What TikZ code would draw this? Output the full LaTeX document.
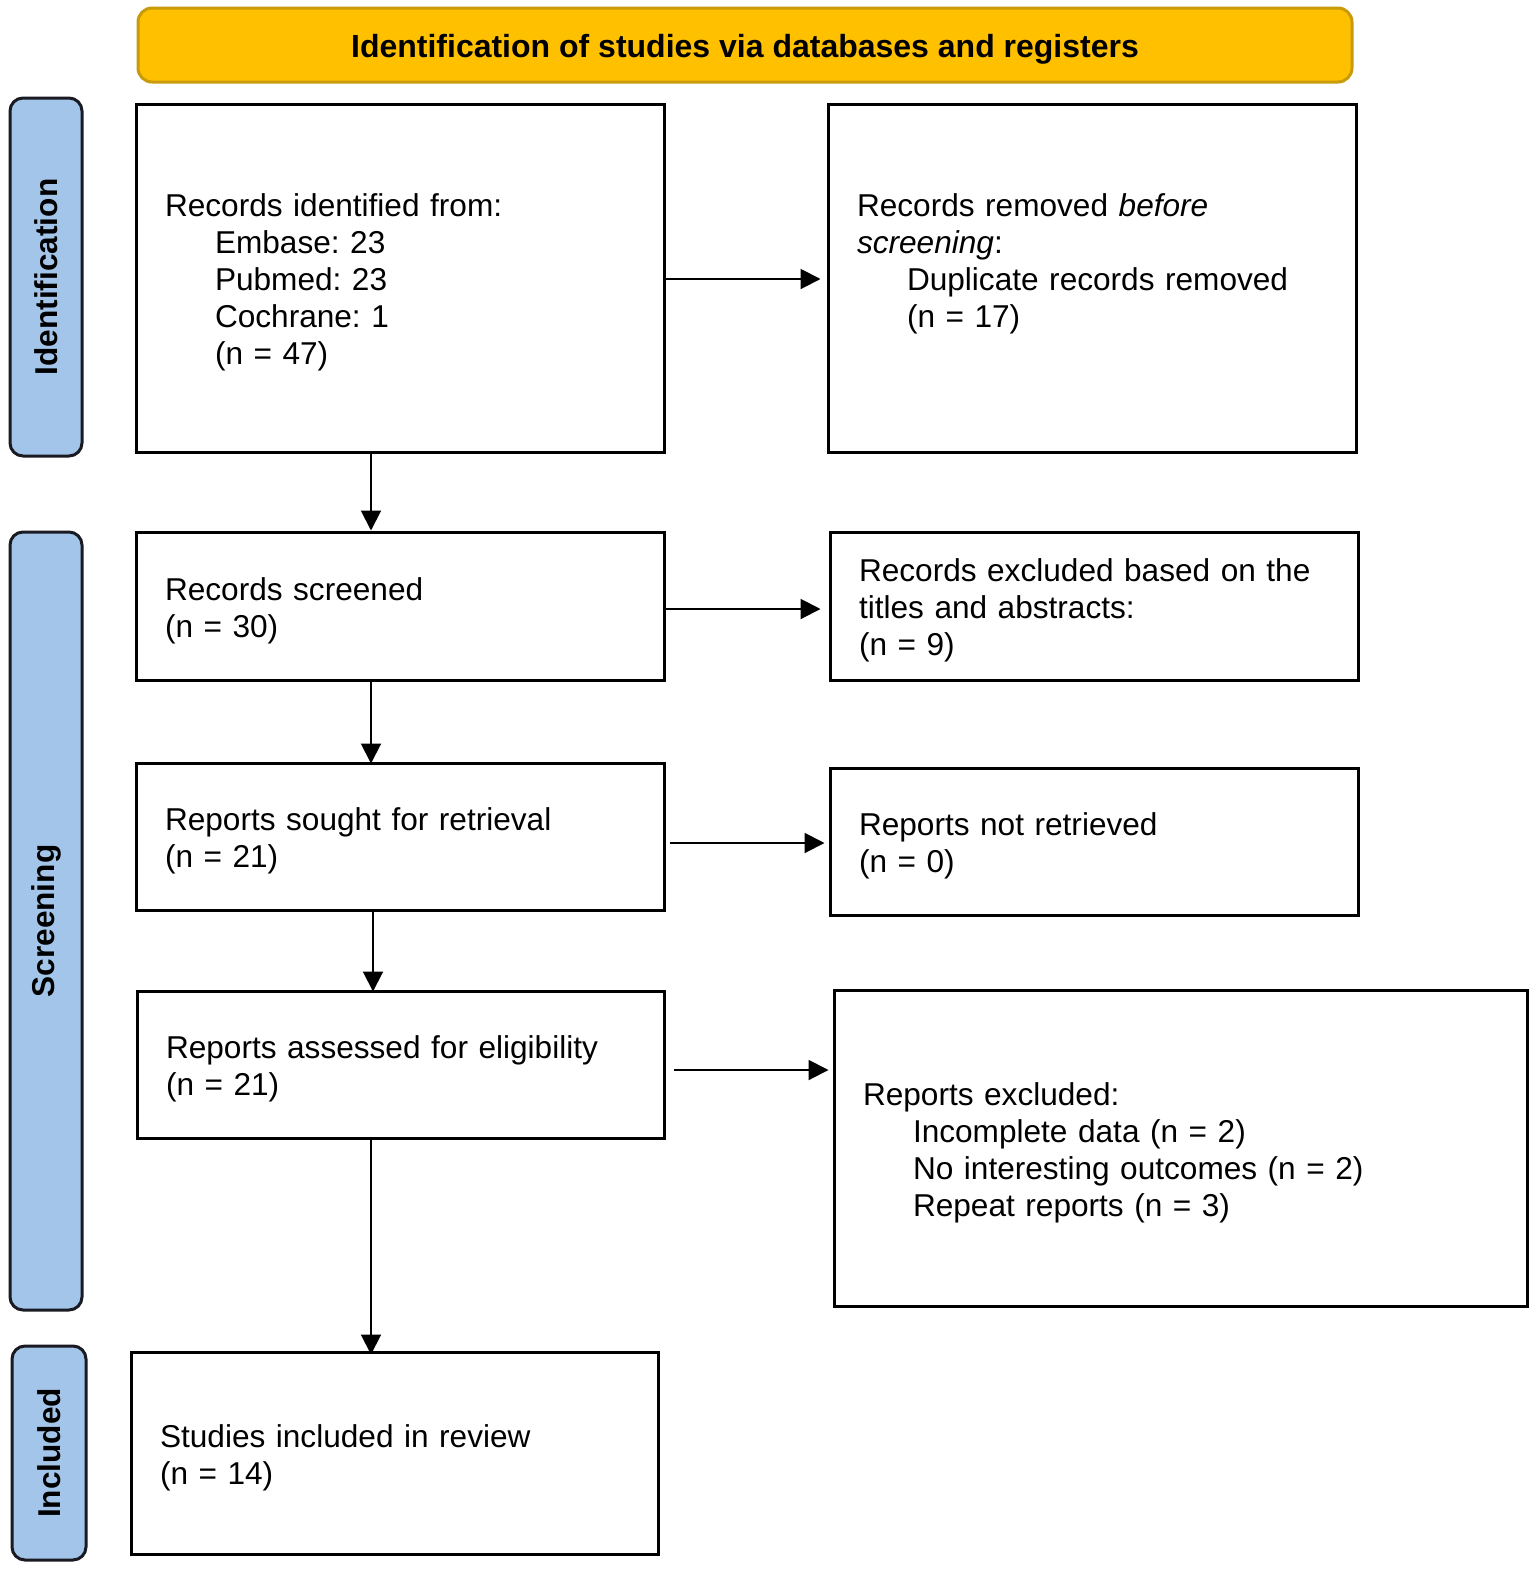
\documentclass[tikz,border=0pt]{standalone}
\usepackage{fontspec}
\setmainfont{Liberation Sans}
\usetikzlibrary{arrows.meta,calc}
\frenchspacing
\definecolor{titlefill}{HTML}{FFC000}
\definecolor{titledraw}{HTML}{C89B0A}
\definecolor{sidefill}{HTML}{A2C5E9}
\definecolor{sidedraw}{HTML}{1A1A22}
\tikzset{
  txt/.style={font=\fontsize{31.6pt}{37pt}\selectfont},
  box/.style={txt, draw=black, line width=3pt, fill=white, inner xsep=29pt, inner ysep=0pt, align=left},
  side/.style={font=\fontsize{31.6pt}{37pt}\selectfont\bfseries, draw=sidedraw, line width=3pt, fill=sidefill, rounded corners=13pt, rotate=90, inner sep=0pt},
  titlebar/.style={font=\fontsize{32pt}{37pt}\selectfont\bfseries, draw=titledraw, line width=3pt, fill=titlefill, rounded corners=14pt, inner sep=0pt, text height=24.5pt, text depth=0pt},
  arr/.style={line width=2pt, -{Triangle[length=20pt,width=20pt]}},
}
\newcommand{\ind}{\hspace*{50pt}}
\newcommand{\tp}{\rule{0pt}{32pt}}
\begin{document}
\begin{tikzpicture}[x=1pt,y=-1pt]
\useasboundingbox (0,0) rectangle (1535,1569);
% title
\node[titlebar, minimum width=1214pt, minimum height=74pt] (title) at (745,45) {Identification of studies via databases and registers};
% side labels
\node[side, minimum width=358pt, minimum height=72pt] (s1) at (46,277) {Identification};
\node[side, minimum width=778pt, minimum height=72pt] (s2) at (46,921) {Screening};
\node[side, minimum width=214pt, minimum height=74pt] (s3) at (49,1453) {Included};
% boxes
\node[box, minimum width=528pt, minimum height=348pt, text width=470pt] (b1) at (400,278)
  {\tp Records identified from:\\ \ind Embase: 23\\ \ind Pubmed: 23\\ \ind Cochrane: 1\\ \ind (n = 47)};
\node[box, minimum width=528pt, minimum height=348pt, text width=470pt] (b2) at (1092,278)
  {\rule{0pt}{25pt}Records removed \textit{before}\\ \textit{screening}:\\ \ind Duplicate records removed\\ \ind (n = 17)\\ ~};
\node[box, minimum width=528pt, minimum height=148pt, text width=470pt] (b3) at (400,606)
  {\tp Records screened\\ (n = 30)};
\node[box, minimum width=528pt, minimum height=148pt, text width=470pt] (b4) at (1094,606)
  {\tp Records excluded based on the\\ titles and abstracts:\\ (n = 9)};
\node[box, minimum width=528pt, minimum height=147pt, text width=470pt] (b5) at (400,836.5)
  {\tp Reports sought for retrieval\\ (n = 21)};
\node[box, minimum width=528pt, minimum height=147pt, text width=470pt] (b6) at (1094,841.5)
  {\tp Reports not retrieved\\ (n = 0)};
\node[box, minimum width=527pt, minimum height=147pt, text width=469pt] (b7) at (400.5,1064.5)
  {\tp Reports assessed for eligibility\\ (n = 21)};
\node[box, minimum width=693pt, minimum height=316pt, text width=635pt] (b8) at (1180.5,1148)
  {\tp Reports excluded:\\ \ind Incomplete data (n = 2)\\ \ind No interesting outcomes (n = 2)\\ \ind Repeat reports (n = 3)};
\node[box, minimum width=527pt, minimum height=202pt, text width=469pt] (b9) at (394.5,1453)
  {\tp Studies included in review\\ (n = 14)};
% arrows
\draw[arr] ([yshift=-1pt]b1.east) -- ([yshift=-1pt,xshift=-6pt]b2.west);
\draw[arr] ([xshift=-29pt]b1.south) -- ([xshift=-29pt]b1.south |- b3.north);
\draw[arr] ([yshift=-3pt]b3.east) -- ([yshift=-3pt,xshift=-8pt]b4.west);
\draw[arr] ([xshift=-29pt,yshift=3pt]b3.south) -- ([xshift=-29pt,yshift=-2pt]b3.south |- b5.north);
\draw[arr] ([xshift=4pt,yshift=-1.5pt]b6.west -| b5.east) -- ([xshift=-4pt,yshift=-1.5pt]b6.west);
\draw[arr] ([xshift=-27pt]b5.south) -- ([xshift=-27pt,yshift=-2pt]b5.south |- b7.north);
\draw[arr] ([xshift=8pt,yshift=-5.5pt]b7.east) -- ([yshift=-5.5pt,xshift=-4pt]b7.east -| b8.west);
\draw[arr] ([xshift=-29.5pt]b7.south) -- ([xshift=-29.5pt,yshift=-4pt]b7.south |- b9.north);
\end{tikzpicture}
\end{document}
